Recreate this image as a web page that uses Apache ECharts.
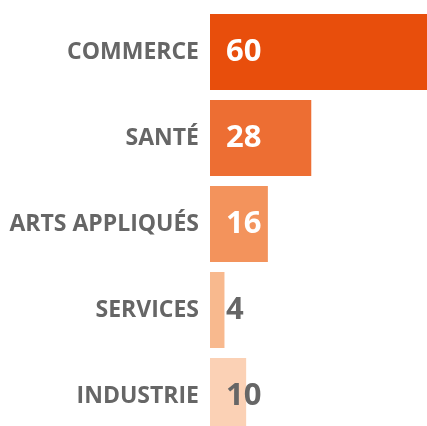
<!DOCTYPE html>
<html>
<head>
<meta charset="utf-8">
<script src="https://cdn.jsdelivr.net/npm/echarts@6/dist/echarts.min.js"></script>
<style>
  html, body { margin: 0; padding: 0; background: #fff; }
  #main { width: 427px; height: 426px; }
</style>
</head>
<body>
<div id="main"></div>
<script>
// secteurs et effectifs
var categories = ['COMMERCE', 'SANTÉ', 'ARTS APPLIQUÉS', 'SERVICES', 'INDUSTRIE'];
var values = [60, 28, 16, 4, 10];
var barColors = ['#e84e0c', '#ed6e33', '#f3935c', '#f8b98e', '#fbd1b5'];
var labelColors = ['#ffffff', '#ffffff', '#ffffff', '#666666', '#666666'];

var myChart = echarts.init(document.getElementById('main'));

var seriesData = values.map(function (v, i) {
	return {
		value: v,
		itemStyle: { color: barColors[i] },
		label: { color: labelColors[i] }
	};
});

option = {
	animation: false,
	grid: {
		left: 210,
		right: 0,
		top: 9,
		bottom: -13,
		outerBoundsMode: 'none'
	},
	xAxis: {
		type: 'value',
		min: 0,
		max: 60,
		show: false
	},
	yAxis: {
		type: 'category',
		data: categories,
		inverse: true,
		axisLine: { show: false },
		axisTick: { show: false },
		splitLine: { show: false },
		axisLabel: {
			margin: 11,
			color: '#666666',
			fontFamily: 'Open Sans',
			fontWeight: 'bold',
			fontSize: 23
		}
	},
	series: [
		{
			type: 'bar',
			barWidth: 76,
			data: seriesData,
			label: {
				show: true,
				position: 'insideLeft',
				distance: 16,
				fontFamily: 'Open Sans',
				fontWeight: 'bold',
				fontSize: 31
			}
		}
	]
};
myChart.setOption(option);
</script>
</body>
</html>
